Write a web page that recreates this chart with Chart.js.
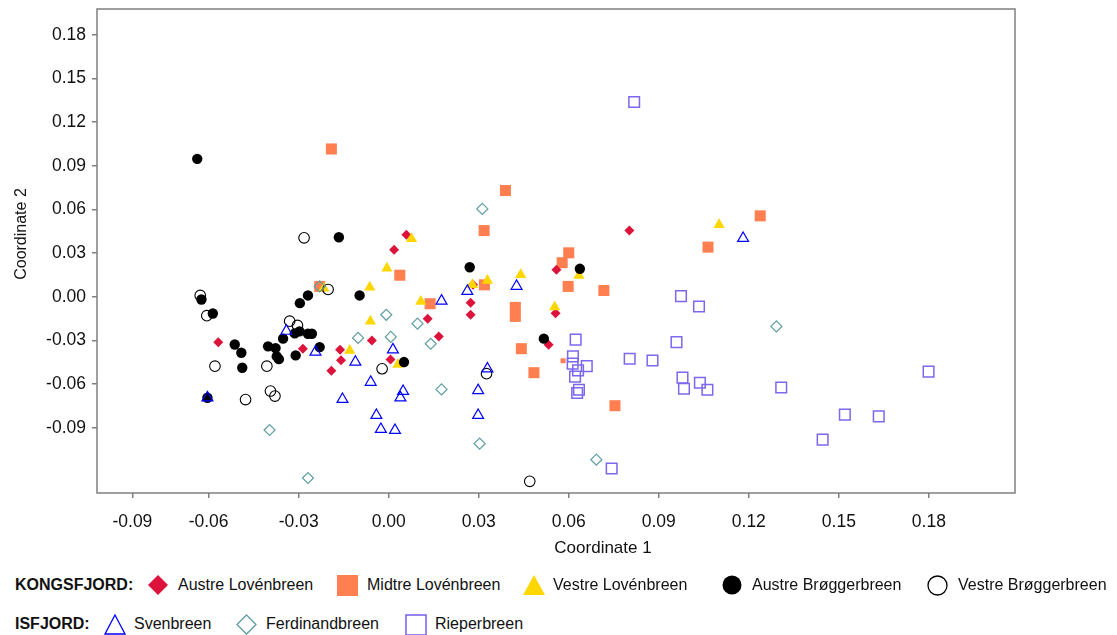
<!DOCTYPE html>
<html>
<head>
<meta charset="utf-8">
<script src="https://cdn.jsdelivr.net/npm/chart.js@4.4.1/dist/chart.umd.min.js"></script>
<style>
  body { margin: 0; background: #fff; font-family: "Liberation Sans", Arial, sans-serif; }
  #wrap { position: relative; width: 1117px; height: 635px; }
  #mycanvas { position: absolute; left: 0; top: 0; }
  .lg { position: absolute; height: 24px; line-height: 24px; font-size: 16px; color: #111; white-space: nowrap; }
  .lg svg { display: block; margin-top: 2px; }
  .hd { font-weight: bold; }
  .ttl { position: absolute; color: #111; white-space: nowrap; line-height: 20px; }
</style>
</head>
<body>
<div id="wrap">
  <canvas id="mycanvas" width="1117" height="560"></canvas>

  <!-- axis titles -->
  <div class="ttl" style="left:553px;top:538px;width:100px;text-align:center;font-size:17px">Coordinate 1</div>
  <div class="ttl" style="left:-29px;top:224px;width:100px;text-align:center;font-size:16px;transform:rotate(-90deg)">Coordinate 2</div>

  <!-- legend row 1 -->
  <div class="lg hd" style="left:15px;top:573px">KONGSFJORD:</div>
  <div class="lg" style="left:148px;top:573px"><svg width="20" height="20"><polygon points="10,0 20,10 10,20 0,10" fill="#DC143C"/></svg></div>
  <div class="lg" style="left:178px;top:573px">Austre Lovénbreen</div>
  <div class="lg" style="left:337px;top:573px"><svg width="21" height="21"><rect x="0" y="0" width="21" height="21" fill="#FF7F50"/></svg></div>
  <div class="lg" style="left:367px;top:573px">Midtre Lovénbreen</div>
  <div class="lg" style="left:523px;top:573px"><svg width="22" height="20"><polygon points="11,0 22,20 0,20" fill="#FFD700"/></svg></div>
  <div class="lg" style="left:553px;top:573px">Vestre Lovénbreen</div>
  <div class="lg" style="left:722px;top:573px"><svg width="20" height="20"><circle cx="10" cy="10" r="9.5" fill="#000"/></svg></div>
  <div class="lg" style="left:752px;top:573px">Austre Brøggerbreen</div>
  <div class="lg" style="left:927px;top:573px"><svg width="21" height="21"><circle cx="10.5" cy="10.5" r="9.5" fill="none" stroke="#000" stroke-width="1.3"/></svg></div>
  <div class="lg" style="left:958px;top:573px">Vestre Brøggerbreen</div>

  <!-- legend row 2 -->
  <div class="lg hd" style="left:15px;top:612px">ISFJORD:</div>
  <div class="lg" style="left:104px;top:612px"><svg width="22" height="21"><polygon points="11,1 21,20 1,20" fill="none" stroke="#0000FF" stroke-width="1.3"/></svg></div>
  <div class="lg" style="left:134px;top:612px">Svenbreen</div>
  <div class="lg" style="left:236px;top:612px"><svg width="21" height="21"><polygon points="10.5,1 20,10.5 10.5,20 1,10.5" fill="none" stroke="#5F9EA0" stroke-width="1.3"/></svg></div>
  <div class="lg" style="left:266px;top:612px">Ferdinandbreen</div>
  <div class="lg" style="left:405px;top:612px"><svg width="22" height="22"><rect x="1" y="1" width="20" height="20" fill="none" stroke="#7B68EE" stroke-width="1.6"/></svg></div>
  <div class="lg" style="left:435px;top:612px">Rieperbreen</div>
</div>

<script>
// tick values and labels (the leftmost x tick sits a bit right of where -0.09 would be in the original)
var xTickValues = [-0.0854, -0.06, -0.03, 0, 0.03, 0.06, 0.09, 0.12, 0.15, 0.18];
var xTickLabels = ['-0.09', '-0.06', '-0.03', '0.00', '0.03', '0.06', '0.09', '0.12', '0.15', '0.18'];
var yTicks = [0.18, 0.15, 0.12, 0.09, 0.06, 0.03, 0, -0.03, -0.06, -0.09];

// KONGSFJORD
var austreLoven = [
	[-0.0568,-0.0312],[-0.0286,-0.0357],[-0.0162,-0.0364],[-0.0159,-0.0437],[-0.0191,-0.0508],
	[0.0059,0.0426],[0.0018,0.0323],[0.0273,-0.0041],[0.0273,-0.0124],[0.0281,0.0082],
	[0.0130,-0.0151],[0.0167,-0.0273],[-0.0056,-0.0300],[0.0006,-0.0431],[0.0802,0.0455],
	[0.0559,0.0185],[0.0556,-0.0113],[0.0533,-0.0330]
];
var midtreLoven = [
	[-0.0191,0.1016],[-0.0230,0.0071],[0.0389,0.0730],[0.0318,0.0455],[0.0037,0.0148],
	[0.0138,-0.0048],[0.0319,0.0082],[0.0422,-0.0073],[0.0422,-0.0135],[0.0442,-0.0357],
	[0.0484,-0.0522],[0.0600,0.0302],[0.0578,0.0234],[0.0598,0.0071],[0.0717,0.0043],
	[0.0581,-0.0440],[0.0754,-0.0749],[0.1238,0.0556],[0.1064,0.0341]
];
var vestreLoven = [
	[-0.0216,0.0059],[-0.0130,-0.0369],[-0.0061,-0.0168],[0.0031,-0.0465],[0.0107,-0.0032],
	[0.0076,0.0398],[-0.0006,0.0196],[-0.0063,0.0066],[0.0279,0.0082],[0.0329,0.0112],
	[0.0440,0.0151],[0.0634,0.0146],[0.0553,-0.0071],[0.1101,0.0495]
];
var austreBrogger = [
	[-0.0638,0.0948],[-0.0166,0.0409],[-0.0624,-0.0019],[-0.0586,-0.0115],[-0.0296,-0.0044],
	[-0.0269,0.0009],[-0.0352,-0.0288],[-0.0297,-0.0238],[-0.0269,-0.0254],[-0.0256,-0.0254],
	[-0.0513,-0.0328],[-0.0491,-0.0385],[-0.0488,-0.0488],[-0.0402,-0.0341],[-0.0377,-0.0353],
	[-0.0366,-0.0429],[-0.0310,-0.0403],[-0.0230,-0.0346],[-0.0604,-0.0694],[-0.0097,0.0009],
	[0.0270,0.0203],[0.0051,-0.0449],[0.0637,0.0192],[0.0517,-0.0288],[-0.0313,-0.0252],
	[-0.0373,-0.0410]
];
var vestreBrogger = [
	[-0.0282,0.0405],[-0.0202,0.0050],[-0.0628,0.0009],[-0.0606,-0.0130],[-0.0330,-0.0168],
	[-0.0304,-0.0197],[-0.0579,-0.0477],[-0.0406,-0.0477],[-0.0394,-0.0648],[-0.0379,-0.0683],
	[-0.0477,-0.0707],[-0.0022,-0.0495],[0.0326,-0.0529],[0.0470,-0.1269]
];

// ISFJORD
var svenbreen = [
	[-0.0341,-0.0236],[-0.0244,-0.0380],[-0.0604,-0.0694],[-0.0154,-0.0705],[0.0176,-0.0029],
	[0.0262,0.0038],[0.0426,0.0073],[0.0014,-0.0364],[-0.0111,-0.0449],[-0.0060,-0.0587],
	[0.0048,-0.0650],[0.0039,-0.0694],[-0.0041,-0.0815],[-0.0026,-0.0911],[0.0021,-0.0918],
	[0.0329,-0.0495],[0.0298,-0.0644],[0.0298,-0.0815],[0.1181,0.0402]
];
var ferdinandbreen = [
	[-0.0230,0.0071],[-0.0397,-0.0916],[-0.0269,-0.1246],[0.0312,0.0604],[-0.0008,-0.0124],
	[0.0096,-0.0185],[-0.0102,-0.0283],[0.0007,-0.0276],[0.0140,-0.0323],[0.0176,-0.0637],
	[0.0303,-0.1010],[0.0692,-0.1120],[0.1292,-0.0204]
];
var rieperbreen = [
	[0.0818,0.1339],[0.0623,-0.0295],[0.0614,-0.0410],[0.0613,-0.0460],[0.0631,-0.0506],
	[0.0660,-0.0477],[0.0621,-0.0549],[0.0634,-0.0639],[0.0628,-0.0662],[0.0803,-0.0426],
	[0.0879,-0.0438],[0.0959,-0.0312],[0.0974,0.0004],[0.1034,-0.0067],[0.0979,-0.0556],
	[0.1037,-0.0591],[0.0984,-0.0632],[0.1062,-0.0639],[0.1308,-0.0624],[0.0743,-0.1181],
	[0.1799,-0.0515],[0.1520,-0.0810],[0.1633,-0.0822],[0.1446,-0.0982]
];

function pts(arr) {
	return arr.map(function(p) { return {x: p[0], y: p[1]}; });
}

// box round the plot area
var frame = {
	id: 'frame',
	afterDatasetsDraw: function(chart) {
		var a = chart.chartArea, c = chart.ctx;
		c.save();
		c.strokeStyle = '#808080';
		c.lineWidth = 1.5;
		c.strokeRect(a.left, a.top, a.right - a.left, a.bottom - a.top);
		c.restore();
	}
};

var font = "'Liberation Sans', Arial, sans-serif";

// first dataset is drawn on top
var chartdata = {
	datasets: [
		{ label: 'Ferdinandbreen', data: pts(ferdinandbreen), pointStyle: 'rectRot', pointRadius: 5.5,
		  backgroundColor: 'rgba(0,0,0,0)', borderColor: '#5F9EA0', borderWidth: 1.2 },
		{ label: 'Svenbreen', data: pts(svenbreen), pointStyle: 'triangle', pointRadius: 6.3,
		  backgroundColor: 'rgba(0,0,0,0)', borderColor: '#0000FF', borderWidth: 1.2 },
		{ label: 'Rieperbreen', data: pts(rieperbreen), pointStyle: 'rect', pointRadius: 7.5,
		  backgroundColor: 'rgba(0,0,0,0)', borderColor: '#7B68EE', borderWidth: 1.5 },
		{ label: 'Vestre Brøggerbreen', data: pts(vestreBrogger), pointStyle: 'circle', pointRadius: 5.3,
		  backgroundColor: 'rgba(0,0,0,0)', borderColor: '#000', borderWidth: 1.1 },
		{ label: 'Austre Brøggerbreen', data: pts(austreBrogger), pointStyle: 'circle', pointRadius: 5.2,
		  backgroundColor: '#000', borderColor: '#000', borderWidth: 0 },
		{ label: 'Vestre Lovénbreen', data: pts(vestreLoven), pointStyle: 'triangle', pointRadius: 6.5,
		  backgroundColor: '#FFD700', borderColor: '#FFD700', borderWidth: 0 },
		{ label: 'Austre Lovénbreen', data: pts(austreLoven), pointStyle: 'rectRot', pointRadius: 5,
		  backgroundColor: '#DC143C', borderColor: '#DC143C', borderWidth: 0 },
		{ label: 'Midtre Lovénbreen', data: pts(midtreLoven), pointStyle: 'rect',
		  // one sample is drawn smaller in the original
		  pointRadius: function(c) { return c.dataIndex === 15 ? 3.5 : 7.8; },
		  backgroundColor: '#FF7F50', borderColor: '#FF7F50', borderWidth: 0 }
	]
};

var ctx = document.getElementById('mycanvas');

var scatter = new Chart(ctx, {
	type: 'scatter',
	data: chartdata,
	plugins: [frame],
	options: {
		responsive: false,
		animation: false,
		layout: { padding: { top: 8, right: 102, left: 0, bottom: 0 } },
		plugins: { legend: { display: false }, tooltip: { enabled: false } },
		scales: {
			x: {
				type: 'linear',
				min: -0.0972,
				max: 0.2087,
				afterFit: function(s) { s.height = 67; s.paddingLeft = 0; s.paddingRight = 0; },
				afterBuildTicks: function(s) { s.ticks = xTickValues.map(function(v) { return {value: v}; }); },
				border: { display: false },
				grid: { drawOnChartArea: false, drawTicks: true, tickLength: 5, color: '#808080', lineWidth: 1.5 },
				ticks: {
					padding: 14,
					color: '#111',
					font: { family: font, size: 17.5 },
					maxRotation: 0,
					autoSkip: false,
					callback: function(v, i) { return xTickLabels[i]; }
				}
			},
			y: {
				type: 'linear',
				min: -0.1349,
				max: 0.1978,
				afterFit: function(s) { s.width = 97; s.paddingTop = 0; s.paddingBottom = 0; },
				afterBuildTicks: function(s) { s.ticks = yTicks.map(function(v) { return {value: v}; }); },
				border: { display: false },
				grid: { drawOnChartArea: false, drawTicks: true, tickLength: 5, color: '#808080', lineWidth: 1.5 },
				ticks: {
					padding: 6,
					color: '#111',
					font: { family: font, size: 17.5 },
					autoSkip: false,
					callback: function(v) { return v.toFixed(2); }
				}
			}
		}
	}
});
</script>
</body>
</html>
